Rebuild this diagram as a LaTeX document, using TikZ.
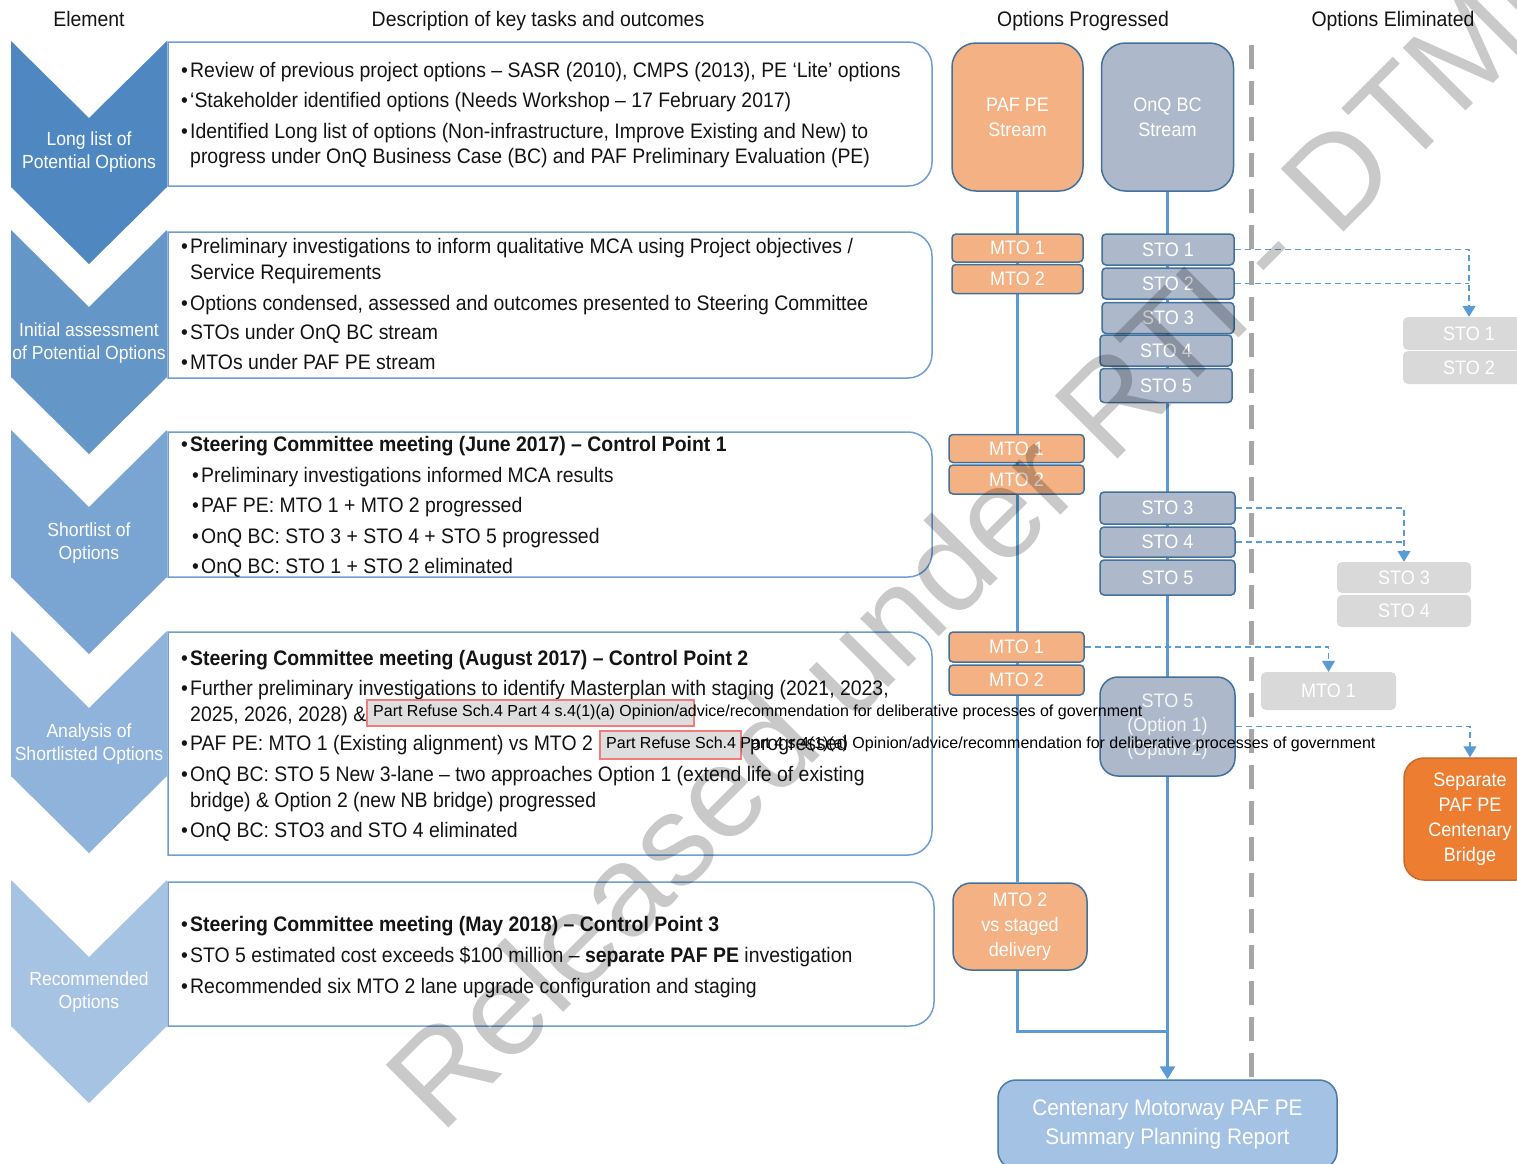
\documentclass[tikz,border=0pt]{standalone}
\usepackage{fontspec}
\setmainfont{Liberation Sans}[FakeStretch=0.925]
\newfontfamily\plainfont{Liberation Sans}
\usetikzlibrary{arrows.meta}
\definecolor{chA}{RGB}{79,136,193}
\definecolor{chB}{RGB}{101,150,200}
\definecolor{chC}{RGB}{122,165,210}
\definecolor{chD}{RGB}{143,179,219}
\definecolor{chE}{RGB}{167,195,228}
\definecolor{tboxedge}{RGB}{110,158,210}
\definecolor{txtcol}{RGB}{20,20,20}
\definecolor{mtofill}{RGB}{244,177,131}
\definecolor{stofill}{RGB}{173,185,202}
\definecolor{boxedge}{RGB}{65,113,156}
\definecolor{flowblue}{RGB}{91,155,213}
\definecolor{elimfill}{RGB}{217,217,217}
\definecolor{sepfill}{RGB}{237,125,49}
\definecolor{finalfill}{RGB}{164,194,228}
\definecolor{divgray}{RGB}{166,166,166}
\definecolor{redfill}{RGB}{222,222,222}
\definecolor{rededge}{RGB}{240,124,124}
\newcommand\txtfont{\fontsize{21}{25}\selectfont}
\newcommand\chfont{\fontsize{19}{23}\selectfont}
\newcommand\bxfont{\fontsize{19.5}{25}\selectfont}
\newcommand\hdfont{\fontsize{21}{25}\selectfont}
\newcommand\bu{\makebox[9pt][l]{\textbullet}}
\tikzset{
  tbox/.style={draw=tboxedge, fill=white, line width=1.5pt},
  chevtext/.style={text=white, font=\chfont, align=center, inner sep=0pt},
  hdr/.style={font=\hdfont, text=txtcol, inner sep=0pt},
  tline/.style={anchor=base west, inner sep=0pt, font=\txtfont, text=txtcol},
  optbox/.style={draw=boxedge, line width=1.5pt, text=white, font=\bxfont, inner sep=0pt, align=center},
  mtobox/.style={optbox, fill=mtofill, rounded corners=4pt},
  stobox/.style={optbox, fill=stofill, rounded corners=4pt},
  elimbox/.style={fill=elimfill, rounded corners=5pt, text=white, font=\bxfont, inner sep=0pt},
  flow/.style={draw=flowblue, line width=3pt},
  elimdash/.style={draw=flowblue, line width=1.4pt, dash pattern=on 6pt off 4pt},
  elimarrow/.style={elimdash, -{Triangle[width=13pt,length=11pt]}},
  redbox/.style={fill=redfill, draw=rededge, line width=1.5pt, inner sep=0pt},
  redtext/.style={anchor=base west, inner sep=0pt, font=\plainfont\fontsize{16}{18}\selectfont, text=black},
}
\begin{document}
\begin{tikzpicture}[x=1pt,y=-1pt]
\path[use as bounding box, fill=white] (0,0) rectangle (1517,1163);

% headers
\node[hdr] (hElement) at (89,19) {Element};
\node[hdr] (hDesc) at (538,21) {Description of key tasks and outcomes};
\node[hdr] (hProg) at (1083,21) {Options Progressed};
\node[hdr] (hElim) at (1393,21) {Options Eliminated};

% text boxes (square on the left, rounded on the right)
\foreach \t/\b/\r in {42/186/932, 232/378/932, 432/577/932, 632/855/932, 882/1026/934}
  \draw[tbox] (168,\t) -- (\r-24,\t) .. controls (\r-10.75,\t) and (\r,\t+10.75) .. (\r,\t+24)
     -- (\r,\b-24) .. controls (\r,\b-10.75) and (\r-10.75,\b) .. (\r-24,\b) -- (168,\b) -- cycle;

% chevrons
\foreach \t/\b/\c in {41/187/chA, 230/377/chB, 430/577/chC, 631/776/chD, 880/1026/chE}
  \fill[\c] (11,\t) -- (89,\t+77) -- (167,\t) -- (167,\b) -- (89,\b+77) -- (11,\b) -- cycle;

\node[chevtext] (c1) at (89,152) {Long list of\\Potential Options};
\node[chevtext] (c2) at (89,343) {Initial assessment\\of Potential Options};
\node[chevtext] (c3) at (89,543) {Shortlist of\\Options};
\node[chevtext] (c4) at (89,744) {Analysis of\\Shortlisted Options};
\node[chevtext] (c5) at (89,992) {Recommended\\Options};

% box 1
\node[tline] (b1a) at (181,77) {\bu Review of previous project options – SASR (2010), CMPS (2013), PE ‘Lite’ options};
\node[tline] (b1b) at (181,107) {\bu ‘Stakeholder identified options (Needs Workshop – 17 February 2017)};
\node[tline] (b1c) at (181,138) {\bu Identified Long list of options (Non-infrastructure, Improve Existing and New) to};
\node[tline] (b1d) at (190,163) {progress under OnQ Business Case (BC) and PAF Preliminary Evaluation (PE)};
% box 2
\node[tline] (b2a) at (181,253) {\bu Preliminary investigations to inform qualitative MCA using Project objectives /};
\node[tline] (b2b) at (190,279) {Service Requirements};
\node[tline] (b2c) at (181,310) {\bu Options condensed, assessed and outcomes presented to Steering Committee};
\node[tline] (b2d) at (181,339) {\bu STOs under OnQ BC stream};
\node[tline] (b2e) at (181,369) {\bu MTOs under PAF PE stream};
% box 3
\node[tline] (b3a) at (181,451) {\bu\textbf{Steering Committee meeting (June 2017) – Control Point 1}};
\node[tline] (b3b) at (192,482) {\bu Preliminary investigations informed MCA results};
\node[tline] (b3c) at (192,512) {\bu PAF PE: MTO 1 + MTO 2 progressed};
\node[tline] (b3d) at (192,543) {\bu OnQ BC: STO 3 + STO 4 + STO 5 progressed};
\node[tline] (b3e) at (192,573) {\bu OnQ BC: STO 1 + STO 2 eliminated};
% box 4
\node[tline] (b4a) at (181,665) {\bu\textbf{Steering Committee meeting (August 2017) – Control Point 2}};
\node[tline] (b4b) at (181,695) {\bu Further preliminary investigations to identify Masterplan with staging (2021, 2023,};
\node[tline] (b4c) at (190,721) {2025, 2026, 2028) \&};
\node[tline] (b4d) at (181,750) {\bu PAF PE: MTO 1 (Existing alignment) vs MTO 2};
\node[tline] (b4d2) at (750,750) {progressed};
\node[tline] (b4e) at (181,781) {\bu OnQ BC: STO 5 New 3-lane – two approaches Option 1 (extend life of existing};
\node[tline] (b4f) at (190,807) {bridge) \& Option 2 (new NB bridge) progressed};
\node[tline] (b4g) at (181,837) {\bu OnQ BC: STO3 and STO 4 eliminated};
% box 5
\node[tline] (b5a) at (181,931) {\bu\textbf{Steering Committee meeting (May 2018) – Control Point 3}};
\node[tline] (b5b) at (181,962) {\bu STO 5 estimated cost exceeds \$100 million – \textbf{separate PAF PE} investigation};
\node[tline] (b5c) at (181,993) {\bu Recommended six MTO 2 lane upgrade configuration and staging};

% right side boxes (nodes)
\coordinate (join) at (1167.5,1031);
\node[mtobox, rounded corners=24pt, minimum width=131pt, minimum height=148pt] (paf) at (1017.5,117) {PAF PE\\Stream};
\node[stobox, rounded corners=24pt, minimum width=132pt, minimum height=148pt] (onq) at (1167.5,117) {OnQ BC\\Stream};
\node[mtobox, rounded corners=18pt, minimum width=134pt, minimum height=87pt] (mtovs) at (1020,926.5) {MTO 2\\vs staged\\delivery};
\node[optbox, fill=finalfill, draw=flowblue!80!black, rounded corners=18pt, minimum width=339pt, minimum height=89pt, font=\fontsize{22.5}{29}\selectfont] (final) at (1167.5,1124.5) {Centenary Motorway PAF PE\\Summary Planning Report};

% flow lines
\draw[flow] (paf.south) -- (paf.south |- mtovs.north);
\draw[flow] (paf.south |- mtovs.south) |- (join);
\draw[flow, -{Triangle[width=15pt,length=13pt]}] (onq.south) -- (onq.south |- final.north);

\node[mtobox, minimum width=131pt, minimum height=28pt] (mto1a) at (1017.5,248) {MTO 1};
\node[mtobox, minimum width=131pt, minimum height=29pt] (mto2a) at (1017.5,279) {MTO 2};
\node[stobox, minimum width=132pt, minimum height=31pt] (sto1a) at (1168,249.5) {STO 1};
\node[stobox, minimum width=132pt, minimum height=31pt] (sto2a) at (1168,283.5) {STO 2};
\node[stobox, minimum width=132pt, minimum height=31pt] (sto3a) at (1168,318) {STO 3};
\node[stobox, minimum width=132pt, minimum height=31pt] (sto4a) at (1166,350.5) {STO 4};
\node[stobox, minimum width=132pt, minimum height=34pt] (sto5a) at (1166,385.5) {STO 5};

\node[mtobox, minimum width=135pt, minimum height=28pt] (mto1b) at (1016.5,448.5) {MTO 1};
\node[mtobox, minimum width=135pt, minimum height=29pt] (mto2b) at (1016.5,479.5) {MTO 2};
\node[stobox, minimum width=135pt, minimum height=32pt] (sto3b) at (1167.5,508) {STO 3};
\node[stobox, minimum width=135pt, minimum height=30pt] (sto4b) at (1167.5,542) {STO 4};
\node[stobox, minimum width=135pt, minimum height=35pt] (sto5b) at (1167.5,577.5) {STO 5};

\node[mtobox, minimum width=135pt, minimum height=30pt] (mto1c) at (1016.5,647) {MTO 1};
\node[mtobox, minimum width=135pt, minimum height=30pt] (mto2c) at (1016.5,680) {MTO 2};
\node[stobox, rounded corners=18pt, minimum width=135pt, minimum height=99pt, font=\fontsize{19.5}{24}\selectfont, text=white!85!stofill] (sto5opt) at (1167.5,726.5) {STO 5\\(Option 1)\\(Option 2)};

% eliminated boxes
\node[elimbox, minimum width=132pt, minimum height=33pt] (e1) at (1469,333.5) {STO 1};
\node[elimbox, minimum width=132pt, minimum height=33pt] (e2) at (1469,367.5) {STO 2};
\node[elimbox, minimum width=134pt, minimum height=31pt] (e3) at (1404,577.5) {STO 3};
\node[elimbox, minimum width=134pt, minimum height=32pt] (e4) at (1404,611) {STO 4};
\node[elimbox, minimum width=135pt, minimum height=38pt] (em1) at (1328.5,691) {MTO 1};
\node[optbox, fill=sepfill, draw=sepfill!85!black, rounded corners=20pt, minimum width=132pt, minimum height=122pt] (sep) at (1470,819) {Separate\\PAF PE\\Centenary\\Bridge};

% elimination connectors
\draw[elimarrow] (sto1a.east) -| (e1.north);
\draw[elimdash] (sto2a.east) -- (sto2a.east -| e1.north);
\draw[elimarrow] (sto3b.east) -| (e3.north);
\draw[elimdash] (sto4b.east) -- (sto4b.east -| e3.north);
\draw[elimarrow] (mto1c.east) -| (em1.north);
\draw[elimarrow] (sto5opt.east) -| (sep.north);

% divider
\draw[divgray, line width=5pt, dash pattern=on 24pt off 12pt] (1251,45) -- (1251,1077);

% redactions
\node[redbox, minimum width=327pt, minimum height=26pt] (rA) at (530.5,713) {};
\node[redtext] (rAt) at (373,716) {Part Refuse Sch.4 Part 4 s.4(1)(a) Opinion/advice/recommendation for deliberative processes of government};
\node[redbox, minimum width=141pt, minimum height=28pt] (rB) at (670.5,745) {};
\node[redtext] (rBt) at (606,748) {Part Refuse Sch.4 Part 4 s.4(1)(a) Opinion/advice/recommendation for deliberative processes of government};

% watermark
\node[rotate=45, text=black, text opacity=0.21, inner sep=0pt, font=\plainfont\fontsize{129}{129}\selectfont] (wm) at (988,523) {Released under RTI - DTMR};
\end{tikzpicture}
\end{document}
